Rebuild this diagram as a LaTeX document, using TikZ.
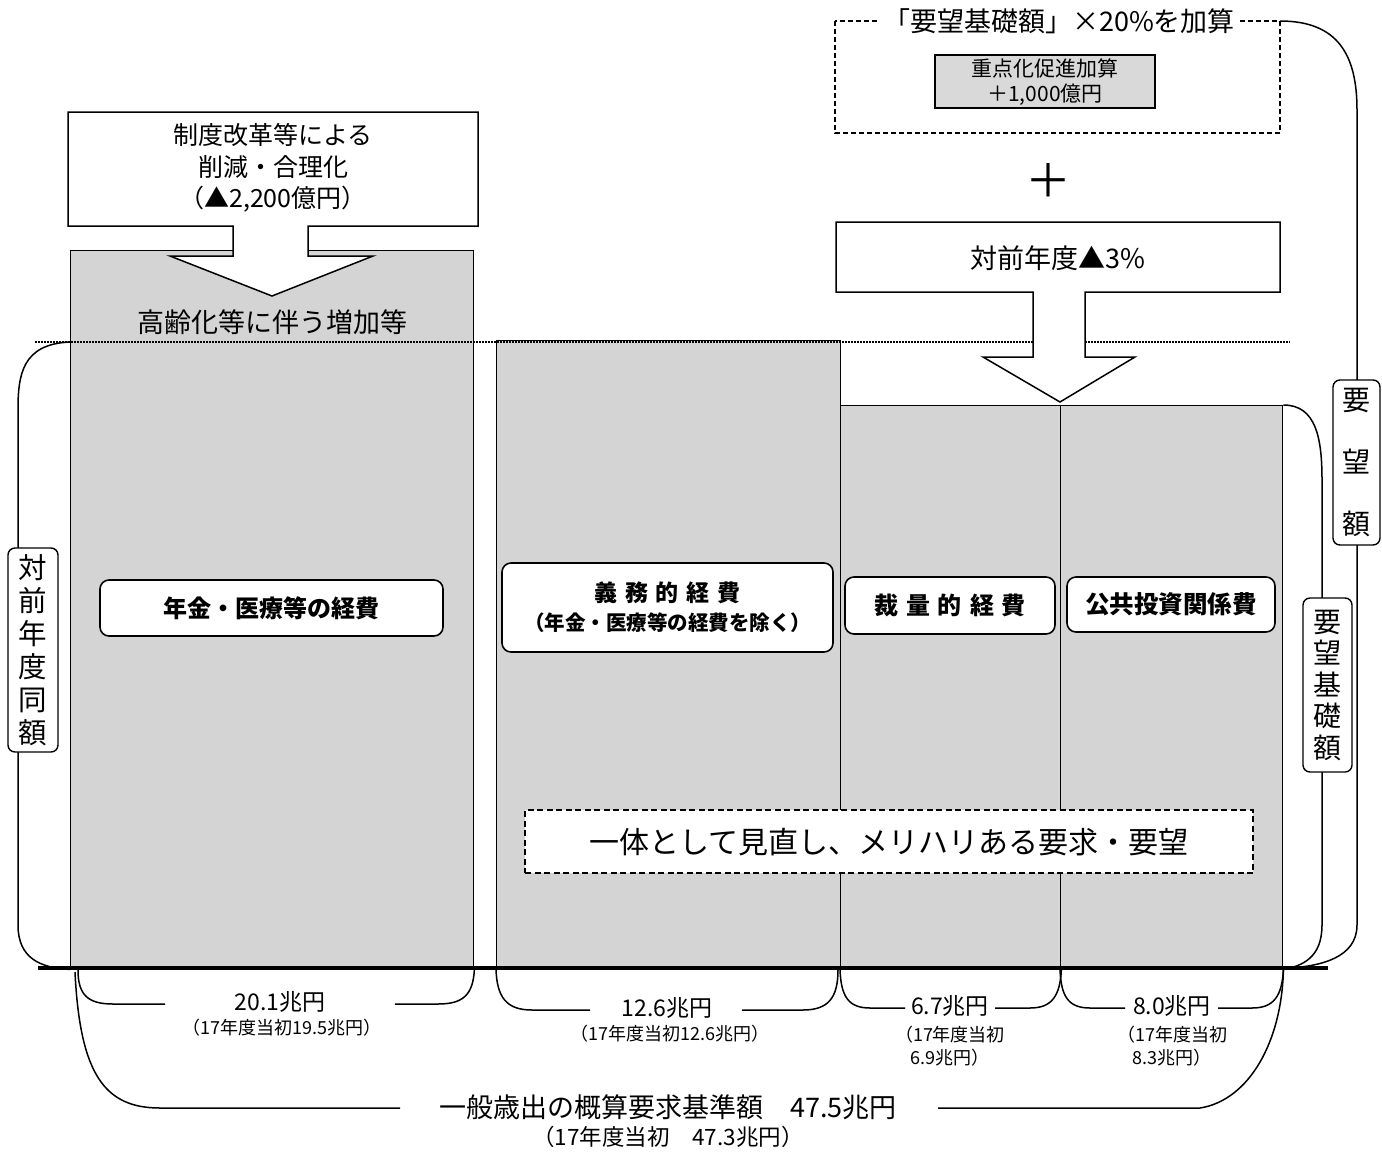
\documentclass[tikz,border=0pt]{standalone}
\usepackage{fontspec}
\setmainfont{Noto Sans CJK JP}
\newcommand\jfs[2]{\fontsize{#1pt}{#2pt}\selectfont}
\begin{document}
\begin{tikzpicture}[x=1pt,y=-1pt,
  colm/.style={draw, line width=1.4pt, fill=black!17, inner sep=0pt, anchor=north west},
  lbl/.style={draw, line width=1.6pt, fill=white, rounded corners=9pt, inner sep=0pt, align=center},
  vlbl/.style={draw, line width=1.4pt, fill=white, rounded corners=7pt, inner sep=0pt, align=center},
  ln/.style={line width=1.5pt},
  txt/.style={inner sep=0pt, align=center}]
\useasboundingbox (0,0) rectangle (1382,1152);
\fill[white] (0,0) rectangle (1382,1152);

% columns
\node[colm, minimum width=403pt, minimum height=718pt] (colA) at (70,250) {};
\node[colm, minimum width=344pt, minimum height=628pt] (colB) at (496,340) {};
\node[colm, minimum width=220pt, minimum height=563pt] (colC) at (840,405) {};
\node[colm, minimum width=222pt, minimum height=563pt] (colD) at (1060,405) {};

% dotted level line
\coordinate (dotL) at (35,342);
\coordinate (dotR) at (1290,342);
\draw[line width=1.6pt, dash pattern=on 1.6pt off 1.4pt] (dotL) -- (dotR);

% top-left box with arrow
\draw[ln, fill=white] (68,112) -- (478,112) -- (478,226) -- (308,226) -- (308,256) -- (373,256)
  -- (272,296) -- (170,256) -- (233,256) -- (233,226) -- (68,226) -- cycle;
\node[txt, font=\jfs{25}{31.5}] (cut) at (273,168) {制度改革等による\\削減・合理化\\（▲2,200億円）};
\node[txt, font=\jfs{27}{30}] (aging) at (272,322) {高齢化等に伴う増加等};

% top-right box with arrow
\draw[ln, fill=white] (836,222) -- (1280,222) -- (1280,292) -- (1085,292) -- (1085,357) -- (1135,357)
  -- (1060,402) -- (983,357) -- (1033,357) -- (1033,292) -- (836,292) -- cycle;
\node[txt, font=\jfs{27}{30}] (minus3) at (1058,258) {対前年度▲3\%};

% plus sign
\node[txt, font=\jfs{46}{50}] (plus) at (1048,180) {＋};

% dashed box at the top right
\draw[ln, dash pattern=on 5pt off 3pt] (835,21) rectangle (1280,133);
\node[txt, fill=white, inner xsep=4pt, font=\jfs{27}{30}] (addtitle) at (1059,21) {「要望基礎額」×20\%を加算};
\node[draw, line width=1.4pt, fill=black!15, minimum width=220pt, minimum height=53pt, inner sep=0pt] (bonus) at (1045,81.5) {};
\node[txt, font=\jfs{21}{25.5}] (bonustxt) at (1045,82) {重点化促進加算\\＋1,000億円};

% labels inside columns
\node[lbl, minimum width=343pt, minimum height=56pt, font=\jfs{24}{28}\bfseries] (nenkin) at (271.5,608) {年金・医療等の経費};
\node[lbl, minimum width=331pt, minimum height=89pt, font=\jfs{23}{29}\bfseries] (gimu) at (667.5,607.5)
  {義\,\,務\,\,的\,\,経\,\,費\\\jfs{20.5}{27}\bfseries（年金・医療等の経費を除く）};
\node[lbl, minimum width=210pt, minimum height=57pt, font=\jfs{24}{28}\bfseries] (sairyo) at (950,605.5) {裁\,\,量\,\,的\,\,経\,\,費};
\node[lbl, minimum width=208pt, minimum height=55pt, font=\jfs{24.5}{28}\bfseries] (kokyo) at (1171,604.5) {公共投資関係費};

% dashed review box
\node[draw, ln, dash pattern=on 6pt off 3.5pt, fill=white, minimum width=728pt, minimum height=63pt, inner sep=0pt] (review) at (889,841.5) {};
\node[txt, font=\jfs{30}{34}] (reviewtxt) at (889,842) {一体として見直し、メリハリある要求・要望};

% left bracket
\draw[ln] (dotL -| colA.west) .. controls (22,344) and (18,375) .. (18,410) -- (18,925)
  .. controls (18,958) and (40,968) .. (colA.south west);
\node[vlbl, minimum width=50pt, minimum height=204pt, font=\jfs{28.5}{33}] (samel) at (33,650) {対\\前\\年\\度\\同\\額};

% right inner bracket
\draw[ln] (colD.north east) .. controls (1316,405) and (1322,438) .. (1322,480) -- (1322,925)
  .. controls (1322,958) and (1302,966) .. (colD.south east);
\node[vlbl, minimum width=49pt, minimum height=174pt, font=\jfs{28}{31.5}] (kiso) at (1327.5,685) {要\\望\\基\\礎\\額};

% right outer bracket
\coordinate (dashTR) at (1280,21);
\coordinate (outerEnd) at (1290,968);
\draw[ln] (dashTR) .. controls (1338,21) and (1357,55) .. (1357,110) -- (1357,925)
  .. controls (1357,958) and (1320,966) .. (outerEnd);
\node[vlbl, minimum width=47pt, minimum height=165pt, font=\jfs{28}{62}] (yobo) at (1356.5,462.5) {要\\望\\額};

% bottom braces for each column
\draw[ln] (78,970) .. controls (78,995) and (88,1004) .. (113,1004) -- (165,1004);
\draw[ln] (395,1004) -- (438,1004) .. controls (463,1004) and (473,995) .. (colA.south east);
\node[txt, font=\jfs{23}{26}] (a1) at (280,1002) {20.1兆円};
\node[txt, font=\jfs{18}{22}] (a2) at (282,1028) {（17年度当初19.5兆円）};

\draw[ln] (colB.south west) .. controls (497,998) and (507,1010) .. (532,1010) -- (590,1010);
\draw[ln] (742,1010) -- (803,1010) .. controls (828,1010) and (838,998) .. (838,970);
\node[txt, font=\jfs{23}{26}] (b1) at (667,1008) {12.6兆円};
\node[txt, font=\jfs{18}{22}] (b2) at (670,1034) {（17年度当初12.6兆円）};

\draw[ln] (colC.south west) .. controls (841,996) and (848,1008) .. (870,1008) -- (905,1008);
\draw[ln] (995,1008) -- (1030,1008) .. controls (1052,1008) and (1060,996) .. (colC.south east);
\node[txt, font=\jfs{23}{26}] (c1) at (950,1006) {6.7兆円};
\node[txt, font=\jfs{18}{22.5}] (c2) at (950,1046) {（17年度当初\\6.9兆円）};

\draw[ln] (colD.south west) .. controls (1061,996) and (1068,1008) .. (1090,1008) -- (1125,1008);
\draw[ln] (1218,1008) -- (1252,1008) .. controls (1274,1008) and (1282,996) .. (colD.south east);
\node[txt, font=\jfs{23}{26}] (d1) at (1172,1006) {8.0兆円};
\node[txt, font=\jfs{18}{22.5}] (d2) at (1172,1046) {（17年度当初\\8.3兆円）};

% overall brace
\draw[ln] (75,972) .. controls (80,1075) and (105,1108) .. (160,1108) -- (400,1108);
\draw[ln] (938,1108) -- (1200,1108) .. controls (1250,1100) and (1282,1040) .. (colD.south east);
\node[txt, font=\jfs{27}{30}] (t1) at (668,1107) {一般歳出の概算要求基準額　47.5兆円};
\node[txt, font=\jfs{22.5}{26}] (t2) at (668,1137) {（17年度当初　47.3兆円）};

% baseline
\draw[line width=3.5pt] (38,968) -- (1328,968);
\end{tikzpicture}
\end{document}
